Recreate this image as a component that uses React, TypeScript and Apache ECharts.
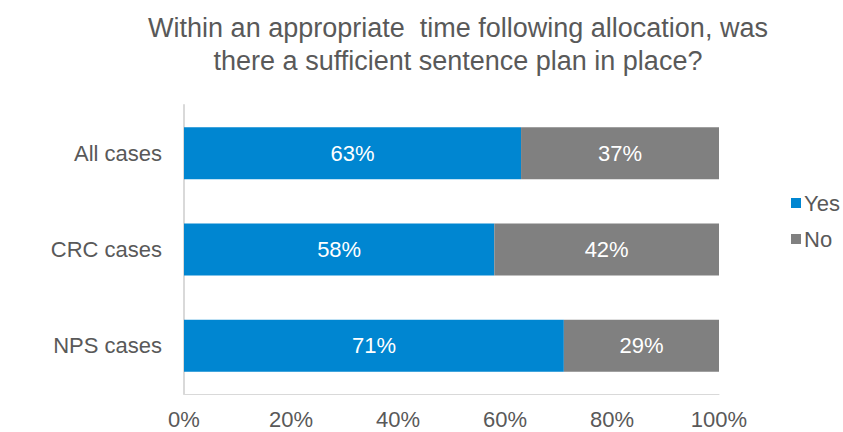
import React, { useEffect, useRef } from "react";
import * as echarts from "echarts";

const categories = ["All cases", "CRC cases", "NPS cases"];
const yesValues = [63, 58, 71];
const noValues = [37, 42, 29];
const xTicks = [0, 20, 40, 60, 80, 100];
const titleText = "Within an appropriate  time following allocation, was\nthere a sufficient sentence plan in place?";

export default function App() {
  const ref = useRef<HTMLDivElement>(null);
  useEffect(() => {
    if (!ref.current) return;
    const chart = echarts.init(ref.current, null, { renderer: "svg" });
    const font = "Liberation Sans, Arial, sans-serif";
    const label = {
      show: true,
      position: "inside",
      color: "#ffffff",
      fontSize: 22,
      fontFamily: font,
      formatter: (p: any) => p.value + "%",
    };
    chart.setOption({
      animation: false,
      title: {
        text: titleText,
        left: 453,
        top: 6,
        textAlign: "center",
        textStyle: { color: "#595959", fontSize: 27, fontWeight: "normal", fontFamily: font, lineHeight: 33 },
      },
      legend: {
        orient: "vertical",
        left: 786,
        top: 187,
        itemWidth: 10,
        itemHeight: 10,
        itemGap: 14,
        icon: "rect",
        textStyle: { color: "#595959", fontSize: 22, fontFamily: font, padding: [0, 0, 0, -2] },
        data: ["Yes", "No"],
      },
      grid: { left: 184, right: 124, top: 105, bottom: 38, containLabel: false },
      xAxis: {
        type: "value",
        min: 0,
        max: 100,
        interval: 20,
        axisLine: { show: true, lineStyle: { color: "#d9d9d9" } },
        axisTick: { show: false },
        splitLine: { show: false },
        axisLabel: {
          color: "#595959",
          fontSize: 22,
          fontFamily: font,
          margin: 14,
          formatter: (v: number) => (xTicks.includes(v) ? v + "%" : ""),
        },
      },
      yAxis: {
        type: "category",
        inverse: true,
        data: categories,
        axisLine: { show: true, lineStyle: { color: "#d9d9d9", width: 2 } },
        axisTick: { show: false },
        axisLabel: { color: "#595959", fontSize: 22, fontFamily: font, margin: 22 },
      },
      series: [
        {
          name: "Yes",
          type: "bar",
          stack: "total",
          data: yesValues,
          barWidth: 52,
          itemStyle: { color: "#0086D1" },
          label,
        },
        {
          name: "No",
          type: "bar",
          stack: "total",
          data: noValues,
          barWidth: 52,
          itemStyle: { color: "#808080" },
          label,
        },
      ],
    });
    return () => chart.dispose();
  }, []);
  return <div ref={ref} style={{ position: "absolute", left: 0, top: 0, width: 843, height: 432 }} />;
}
